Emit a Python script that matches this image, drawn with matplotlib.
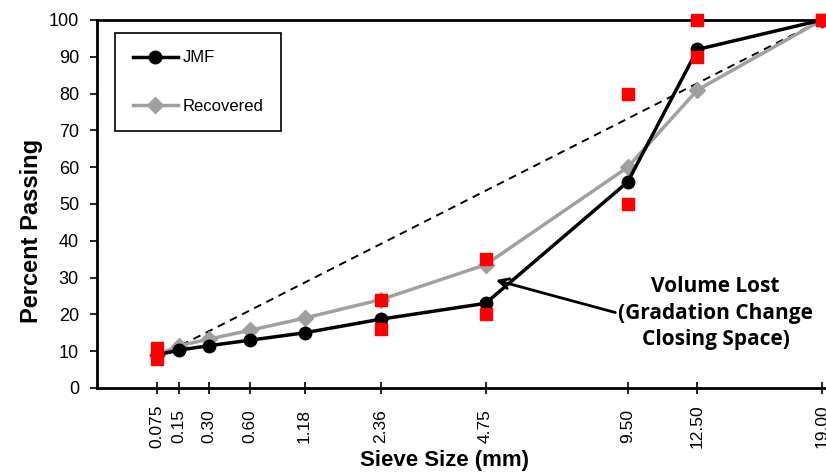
import numpy as np
import matplotlib.pyplot as plt

plt.rcParams['font.family'] = ['Liberation Sans', 'DejaVu Sans']

sieves = [0.075, 0.15, 0.30, 0.60, 1.18, 2.36, 4.75, 9.50, 12.50, 19.00]
sieve_labels = ['0.075', '0.15', '0.30', '0.60', '1.18', '2.36', '4.75', '9.50', '12.50', '19.00']
jmf = [9, 10.3, 11.5, 13, 15, 18.7, 23, 56, 92, 100]
recovered = [9, 11.5, 13.3, 15.7, 19, 24, 33.5, 60, 81, 100]

# control points (upper / lower limits)
ctrl_sieves = [0.075, 0.075, 2.36, 2.36, 4.75, 4.75, 9.50, 9.50, 12.50, 12.50, 19.00, 19.00]
ctrl_values = [11, 8, 24, 16, 35, 20, 80, 50, 100, 90, 100, 100]

# maximum density line ends
mdl_sieves = [0.075, 19.00]

def p45(s):
    return np.array(s) ** 0.45

x = p45(sieves)
mdl_x = p45(mdl_sieves)
mdl_y = mdl_x / p45([19.00])[0] * 100

fig = plt.figure(figsize=(8.26, 4.72), dpi=100)
ax = fig.add_axes([97 / 826, 84 / 472, 729 / 826, 368 / 472])

ax.plot(mdl_x, mdl_y, color='black', linestyle=(0, (4, 3)), linewidth=1.4, zorder=2)
ax.plot(x, recovered, color='#a0a0a0', marker='D', markersize=8, linewidth=2.5,
        label='Recovered', zorder=3)
ax.plot(x, jmf, color='black', marker='o', markersize=9, linewidth=2.5,
        label='JMF', zorder=4)
ax.plot(p45(ctrl_sieves), ctrl_values, linestyle='none', marker='s', markersize=9,
        color='#ff0000', zorder=5, clip_on=False)

ax.set_xlim(0, 3.783)
ax.set_ylim(0, 100)
ax.set_yticks(range(0, 101, 10))
ax.set_xticks(x)
ax.set_xticklabels(sieve_labels, rotation=90, va='center')
ax.tick_params(axis='y', direction='out', length=5, width=1.2, labelsize=13, pad=8)
ax.tick_params(axis='x', direction='inout', length=9, width=1.2, labelsize=12.5, pad=23)

for s in ['left', 'bottom', 'top']:
    ax.spines[s].set_linewidth(2)
ax.spines['right'].set_visible(False)

ax.set_ylabel('Percent Passing', fontsize=17, fontweight='bold', va='center')
ax.yaxis.set_label_coords(-0.0905, 0.427)
ax.set_xlabel('Sieve Size (mm)', fontsize=16, fontweight='bold', va='center')
ax.xaxis.set_label_coords(0.477, -0.198)

handles, labels = ax.get_legend_handles_labels()
leg = ax.legend(handles[::-1], labels[::-1], loc='upper left', bbox_to_anchor=(0.025, 0.965),
                fontsize=12, frameon=True, fancybox=False, edgecolor='black',
                labelspacing=2.0, handlelength=2.7, handletextpad=0.3,
                borderpad=1.05, borderaxespad=0)
leg.get_frame().set_linewidth(1.2)
leg.get_frame().set_facecolor('white')
leg.get_frame().set_alpha(1)

ax.annotate('Volume Lost\n(Gradation Change\nClosing Space)',
            xy=(2.07, 29.3), xytext=(3.21, 20.3),
            ha='center', va='center', fontsize=15, fontweight='bold',
            family=['Open Sans', 'DejaVu Sans'], linespacing=1.35,
            arrowprops=dict(arrowstyle='->', color='black', lw=2,
                            shrinkA=0, shrinkB=0, relpos=(0.0, 0.5), mutation_scale=18))

fig.savefig('out.png', dpi=100)
